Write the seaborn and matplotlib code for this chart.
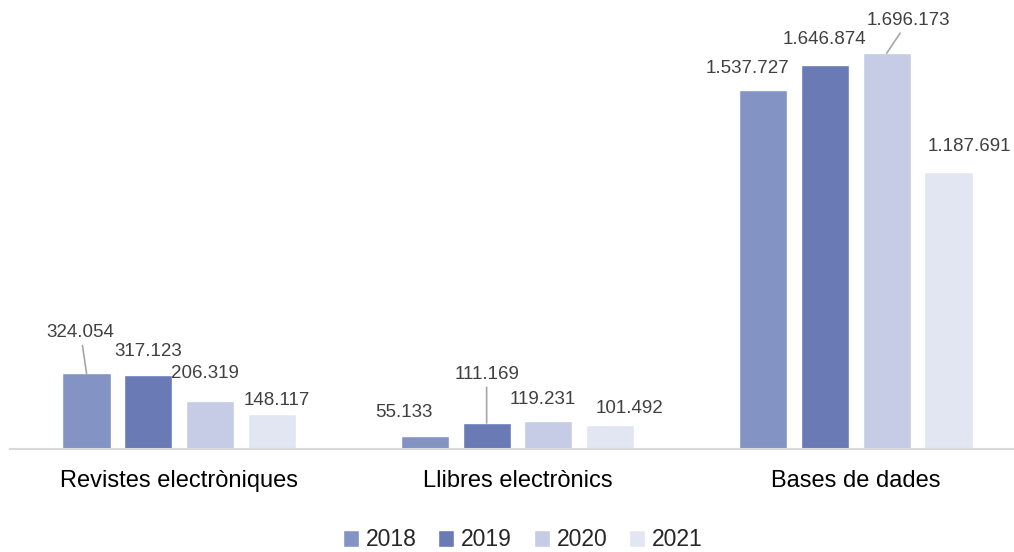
import pandas as pd
import numpy as np
import matplotlib.pyplot as plt
import seaborn as sns

categories = ["Revistes electròniques", "Llibres electrònics", "Bases de dades"]
years = ["2018", "2019", "2020", "2021"]
values_2018 = [324054, 55133, 1537727]
values_2019 = [317123, 111169, 1646874]
values_2020 = [206319, 119231, 1696173]
values_2021 = [148117, 101492, 1187691]

colors = ["#8394C4", "#6A7AB5", "#C6CCE6", "#E2E5F2"]

rows = []
for year, vals in zip(years, [values_2018, values_2019, values_2020, values_2021]):
    for cat, v in zip(categories, vals):
        rows.append({"Categoria": cat, "Any": year, "Valor": v})
df = pd.DataFrame(rows)

# label offsets in pixels from bar top (dx, dy), and which get a leader line
offsets = {
    (0, 0): (-6, 41), (0, 1): (0, 24), (0, 2): (-5, 27), (0, 3): (5, 14),
    (1, 0): (-21, 24), (1, 1): (0, 49), (1, 2): (-6, 22), (1, 3): (19, 17),
    (2, 0): (-16, 22), (2, 1): (-1, 25), (2, 2): (22, 33), (2, 3): (21, 25),
}
leaders = [(0, 0), (1, 1), (2, 2)]

sns.set_theme(style="white")
plt.rcParams["font.family"] = ["Liberation Sans", "DejaVu Sans"]

fig = plt.figure(figsize=(10.14, 5.52), dpi=100)
ax = fig.add_axes([10 / 1014, 103 / 552, 1015 / 1014, 420 / 552])

sns.barplot(data=df, x="Categoria", y="Valor", hue="Any", palette=colors,
            width=0.73, gap=0.22, ax=ax, legend=True, saturation=1)

ax.set_xlim(-0.5, 2.5)
ax.set_ylim(0, 1800000)
ax.set_xlabel("")
ax.set_ylabel("")
ax.set_yticks([])
for s in ["top", "right", "left"]:
    ax.spines[s].set_visible(False)
ax.spines["bottom"].set_color("#D9D9D9")
ax.spines["bottom"].set_linewidth(1.5)
ax.tick_params(axis="x", length=0, pad=15, labelsize=17, colors="#000000")


def fmt(v):
    return f"{v:,}".replace(",", ".")


for j, cont in enumerate(ax.containers):
    for i, bar in enumerate(cont):
        x = bar.get_x() + bar.get_width() / 2
        h = bar.get_height()
        dx, dy = offsets[(i, j)]
        kw = {}
        if (i, j) in leaders:
            kw["arrowprops"] = dict(arrowstyle="-", color="#A6A6A6", lw=1.2,
                                    shrinkA=1, shrinkB=0)
        ax.annotate(fmt(int(h)), xy=(x, h), xytext=(dx, dy),
                    textcoords="offset pixels", ha="center", va="center",
                    fontsize=13.5, color="#404040", annotation_clip=False, **kw)

handles, labels = ax.get_legend_handles_labels()
ax.legend_.remove()
fig.legend(handles, labels, loc="center", bbox_to_anchor=(523 / 1014, 12 / 552),
           ncol=4, frameon=False, fontsize=16.5, handlelength=0.7,
           handleheight=0.7, handletextpad=0.3, columnspacing=0.95)

fig.savefig("out.png", dpi=100)
